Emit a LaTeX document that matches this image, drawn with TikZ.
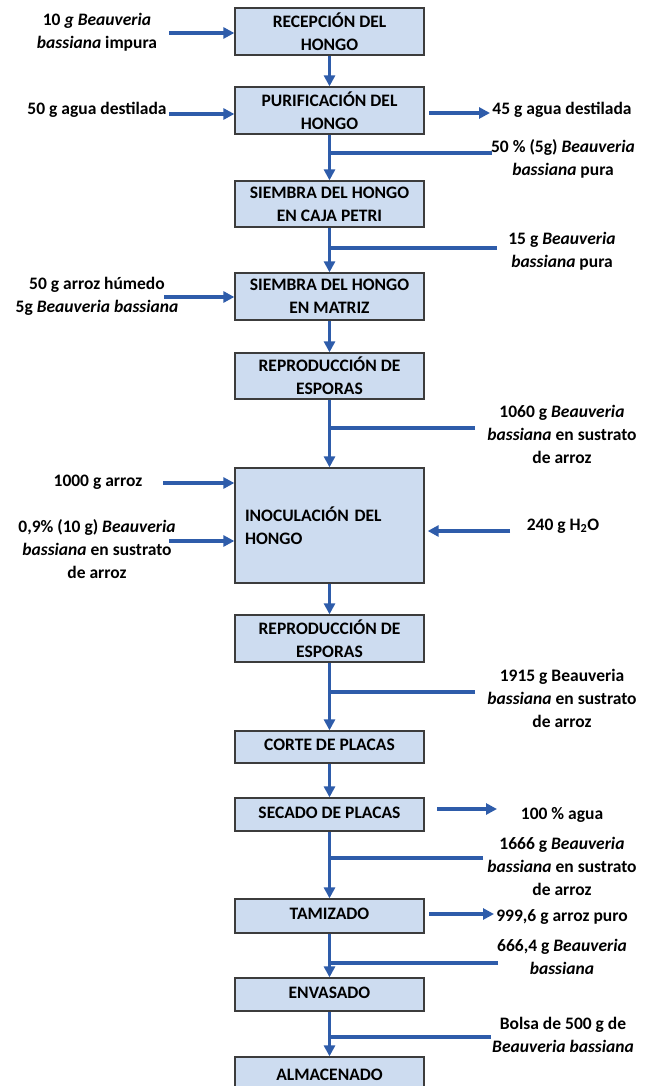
\documentclass[tikz,border=0pt]{standalone}
\usepackage{fontspec}
\setmainfont{Carlito}
\usetikzlibrary{arrows.meta}
\definecolor{boxfill}{RGB}{205,220,240}
\definecolor{arrblue}{RGB}{46,92,170}
\definecolor{boxline}{RGB}{60,60,60}
\tikzset{
  proc/.style={draw=boxline, fill=boxfill, line width=1.3pt, minimum width=189pt, inner sep=0pt,
    font=\fontsize{17.5}{23}\selectfont\bfseries, align=center},
  lbl/.style={inner sep=0pt, font=\fontsize{17.5}{23}\selectfont\bfseries, align=center},
  flow/.style={draw=arrblue, line width=3.2pt, -{Triangle[length=11pt,width=11pt]}},
  plain/.style={draw=arrblue, line width=3.2pt}
}
\begin{document}
\begin{tikzpicture}[x=1pt,y=-1pt]
\useasboundingbox (0,0) rectangle (650,1086);
\clip (0,0) rectangle (650,1086);
% process boxes
\node[proc, minimum height=47pt] (b1) at (329.5,31.5) {RECEPCIÓN DEL\\HONGO};
\node[proc, minimum height=47pt] (b2) at (329.5,110.5) {PURIFICACIÓN DEL\\HONGO};
\node[proc, minimum height=46pt] (b3) at (329.5,204) {SIEMBRA DEL HONGO\\EN CAJA PETRI};
\node[proc, minimum height=47pt] (b4) at (329.5,296.5) {SIEMBRA DEL HONGO\\EN MATRIZ};
\node[proc, minimum height=46pt] (b5) at (329.5,376) {REPRODUCCIÓN DE\\ESPORAS};
\node[proc, minimum height=115pt, text width=169pt, inner xsep=10pt, align=left] (b6) at (329.5,525.5) {INOCULACIÓN DEL\\HONGO};
\node[proc, minimum height=47pt] (b7) at (329.5,638.5) {REPRODUCCIÓN DE\\ESPORAS};
\node[proc, minimum height=32pt, text depth=4pt] (b8) at (329.5,747) {CORTE DE PLACAS};
\node[proc, minimum height=33pt, text depth=4pt] (b9) at (329.5,814.5) {SECADO DE PLACAS};
\node[proc, minimum height=34pt, text depth=4pt] (b10) at (329.5,916) {TAMIZADO};
\node[proc, minimum height=33pt, text depth=4pt] (b11) at (329.5,994.5) {ENVASADO};
\node[proc, minimum height=44pt, text depth=8pt] (b12) at (329.5,1079) {ALMACENADO};
% vertical flow
\foreach \a/\b in {b1/b2,b2/b3,b3/b4,b4/b5,b5/b6,b6/b7,b7/b8,b8/b9,b9/b10,b10/b11,b11/b12}
  \draw[flow] (\a.south) -- (\b.north);
% labels
\node[lbl] (l1) at (97,32.5) {10 \textit{g Beauveria}\\\textit{bassiana} impura};
\node[lbl] (l2) at (97,110) {50 g agua destilada};
\node[lbl] (r2) at (562,110) {45 g agua destilada};
\node[lbl] (t1) at (563,158.5) {50 \% (5g) \textit{Beauveria}\\\textit{bassiana} pura};
\node[lbl] (t2) at (562,251.5) {15 g \textit{Beauveria}\\\textit{bassiana} pura};
\node[lbl] (l4) at (97,296.5) {50 g arroz húmedo\\5g \textit{Beauveria bassiana}};
\node[lbl] (t3) at (562,434) {1060 g \textit{Beauveria}\\\textit{bassiana} en sustrato\\de arroz};
\node[lbl] (l6a) at (98,482) {1000 g arroz};
\node[lbl] (l6b) at (97,549) {0,9\% (10 g) \textit{Beauveria}\\\textit{bassiana} en sustrato\\de arroz};
\node[lbl] (r6) at (563,526) {240 g H\textsubscript{2}O};
\node[lbl] (t4) at (562,698) {1915 g Beauveria\\\textit{bassiana} en sustrato\\de arroz};
\node[lbl] (r9) at (562,815) {100 \% agua};
\node[lbl] (t5) at (562,866) {1666 g \textit{Beauveria}\\\textit{bassiana} en sustrato\\de arroz};
\node[lbl] (r10) at (562,917) {999,6 g arroz puro};
\node[lbl] (t6) at (562,956.5) {666,4 g \textit{Beauveria}\\\textit{bassiana}};
\node[lbl] (t7) at (563,1035) {Bolsa de 500 g de\\\textit{Beauveria bassiana}};
% input arrows (left)
\coordinate (c1) at (169,33);
\coordinate (c2) at (169,114);
\coordinate (c4) at (164,297);
\coordinate (c6a) at (163,483);
\coordinate (c6b) at (169,541);
\draw[flow] (c1) -- (c1 -| b1.west);
\draw[flow] (c2) -- (c2 -| b2.west);
\draw[flow] (c4) -- (c4 -| b4.west);
\draw[flow] (c6a) -- (c6a -| b6.west);
\draw[flow] (c6b) -- (c6b -| b6.west);
% right arrows
\coordinate (o2a) at (429,113); \coordinate (o2b) at (490,113);
\draw[flow] (o2a) -- (o2b);
\coordinate (i6) at (510,531);
\draw[flow] (i6) -- ([xshift=3pt]b6.east |- i6);
\coordinate (o9a) at (437,809); \coordinate (o9b) at (497,809);
\draw[flow] (o9a) -- (o9b);
\coordinate (o10a) at (429,914); \coordinate (o10b) at (494,914);
\draw[flow] (o10a) -- (o10b);
% branch lines
\coordinate (k1) at (492,153);
\coordinate (k2) at (497,248);
\coordinate (k3) at (475,428);
\coordinate (k4) at (475,692);
\coordinate (k5) at (483,858);
\coordinate (k6) at (498,963);
\coordinate (k7) at (491,1037);
\draw[plain] (k1) -- (k1 -| b2.south);
\draw[plain] (k2) -- (k2 -| b3.south);
\draw[plain] (k3) -- (k3 -| b5.south);
\draw[plain] (k4) -- (k4 -| b7.south);
\draw[plain] (k5) -- (k5 -| b9.south);
\draw[plain] (k6) -- (k6 -| b10.south);
\draw[plain] (k7) -- (k7 -| b11.south);
\end{tikzpicture}
\end{document}
